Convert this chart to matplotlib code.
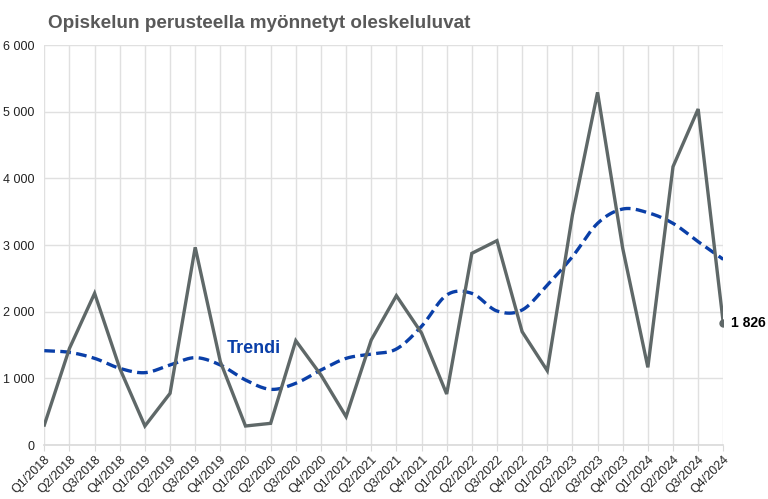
import matplotlib
matplotlib.use("Agg")
import matplotlib.pyplot as plt
import numpy as np

plt.rcParams['font.family'] = ['Liberation Sans', 'DejaVu Sans']

quarters = [f"Q{q}/{y}" for y in range(2018, 2025) for q in range(1, 5)]
permits = [300, 1450, 2275, 1150, 285, 775, 2965, 1250, 285, 325, 1565, 1050,
           425, 1575, 2240, 1680, 765, 2875, 3065, 1700, 1115, 3450, 5290, 2950,
           1165, 4175, 5040, 1826]
trend = [1415, 1390, 1300, 1150, 1085, 1200, 1310, 1200, 975, 835, 925, 1125,
         1300, 1365, 1440, 1780, 2250, 2275, 2010, 2025, 2400, 2825, 3325, 3540,
         3485, 3325, 3050, 2785]
yticks = [0, 1000, 2000, 3000, 4000, 5000, 6000]
ytick_labels = ["0", "1 000", "2 000", "3 000", "4 000", "5 000", "6 000"]
title = "Opiskelun perusteella myönnetyt oleskeluluvat"
trend_label = "Trendi"
last_label = "1 826"


def smooth(xs, ys, n=20):
    # Catmull-Rom rendering of the trend line (display smoothing like Excel)
    xs = np.asarray(xs, float); ys = np.asarray(ys, float)
    px = np.concatenate([[2*xs[0]-xs[1]], xs, [2*xs[-1]-xs[-2]]])
    py = np.concatenate([[2*ys[0]-ys[1]], ys, [2*ys[-1]-ys[-2]]])
    ox, oy = [], []
    for i in range(1, len(px)-2):
        t = np.linspace(0, 1, n, endpoint=False)
        for p, o in ((px, ox), (py, oy)):
            p0, p1, p2, p3 = p[i-1], p[i], p[i+1], p[i+2]
            o.extend(0.5*((2*p1) + (-p0+p2)*t + (2*p0-5*p1+4*p2-p3)*t**2 + (-p0+3*p1-3*p2+p3)*t**3))
    ox.append(xs[-1]); oy.append(ys[-1])
    return ox, oy


fig = plt.figure(figsize=(7.68, 4.99), dpi=100)
ax = fig.add_axes([0.0577, 0.1082, 0.9418-0.0577, 0.9098-0.1082])

x = np.arange(len(quarters))
sx, sy = smooth(x, trend)
ax.plot(sx, sy, color='#0a3fa8', lw=2.4, ls=(0, (3.2, 1.6)), zorder=3)
ax.plot(x, permits, color='#5f6868', lw=2.4, zorder=4, solid_joinstyle='miter')
ax.plot([x[-1]], [permits[-1]], 'o', color='#5f6868', ms=5, zorder=5)

ax.text(x[-1] + 0.3, permits[-1], last_label, fontsize=10, fontweight='bold',
        color='black', va='center', ha='left')
ax.text(7.25, 1450, trend_label, fontsize=13, fontweight='bold', color='#0a3fa8',
        va='center', ha='left')

ax.set_xlim(0, len(quarters) - 1)
ax.set_ylim(0, 6000)
ax.set_yticks(yticks)
ax.set_yticklabels(ytick_labels, fontsize=9, color='#222222')
ax.set_xticks(x)
ax.set_xticklabels(quarters, rotation=45, ha='right', rotation_mode='anchor',
                   fontsize=9, color='#222222')
ax.tick_params(axis='y', length=0, pad=7)
ax.tick_params(axis='x', length=4, color='#d9d9d9', pad=2)

ax.grid(True, color='#e0e0e0', lw=1)
ax.set_axisbelow(True)
for s in ['top', 'right', 'left']:
    ax.spines[s].set_visible(False)
ax.spines['bottom'].set_color('#d9d9d9')
ax.spines['bottom'].set_linewidth(1.2)

fig.text(48/768, 1 - 23/499, title, fontsize=13.6, fontweight='bold', color='#595959',
         va='center', ha='left')

fig.savefig("out.png", dpi=100)
